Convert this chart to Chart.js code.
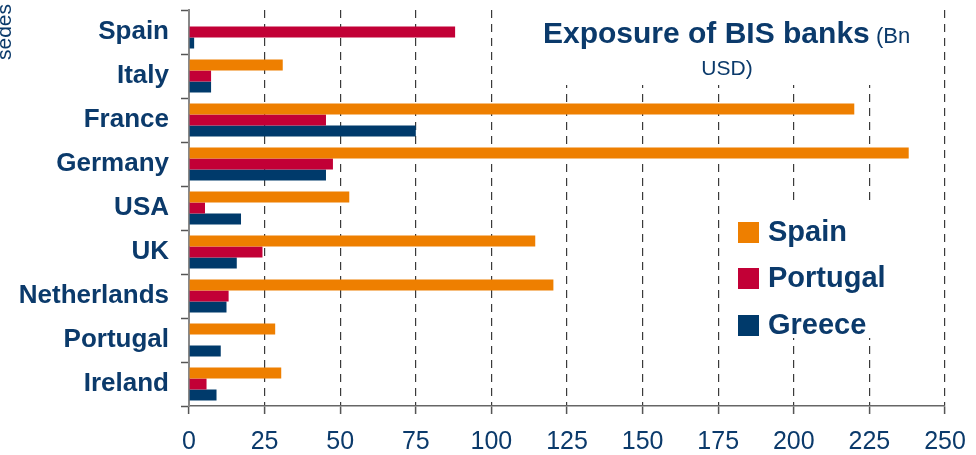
<!DOCTYPE html>
<html>
<head>
<meta charset="utf-8">
<script src="https://cdn.jsdelivr.net/npm/chart.js@4"></script>
<style>
html, body { margin: 0; padding: 0; background: #fff; }
</style>
</head>
<body>
<canvas id="chart" width="976" height="455"></canvas>
<script>
// Bank nationality (categories) and exposures in Bn USD
const countries = ["Spain", "Italy", "France", "Germany", "USA", "UK", "Netherlands", "Portugal", "Ireland"];
const toSpain    = [null, 31, 220, 238, 53, 114.5, 120.5, 28.5, 30.5];
const toPortugal = [88, 7.3, 45.3, 47.6, 5.3, 24.3, 13.1, null, 5.8];
const toGreece   = [1.7, 7.3, 75, 45.3, 17.2, 15.8, 12.4, 10.5, 9.1];
const xTicks = [0, 25, 50, 75, 100, 125, 150, 175, 200, 225, 250];

const navy = "#0B3A6B";
const FONT = "'Liberation Sans', Arial, sans-serif";

// Title, legend and clipped side label drawn inside the plot area
const overlayPlugin = {
    id: "overlay",
    afterDraw(chart) {
        const ctx = chart.ctx;
        ctx.save();

        // white boxes hiding the grid behind title and legend
        ctx.fillStyle = "#ffffff";
        ctx.fillRect(540, 0, 396, 85);
        ctx.fillRect(722, 203, 215, 135);

        // title
        ctx.fillStyle = navy;
        ctx.textBaseline = "alphabetic";
        ctx.textAlign = "left";
        ctx.font = "bold 30px " + FONT;
        ctx.fillText("Exposure of BIS banks", 543, 43);
        ctx.font = "22px " + FONT;
        ctx.fillText("(Bn", 876, 43);
        ctx.textAlign = "center";
        ctx.font = "21px " + FONT;
        ctx.fillText("USD)", 727, 75);

        // legend
        const rows = [232, 278, 325];
        chart.data.datasets.forEach((ds, i) => {
            ctx.fillStyle = ds.backgroundColor;
            ctx.fillRect(738, rows[i] - 10, 21, 21);
            ctx.fillStyle = navy;
            ctx.textAlign = "left";
            ctx.textBaseline = "middle";
            ctx.font = "bold 29px " + FONT;
            ctx.fillText(ds.label, 768, rows[i] + 1);
        });

        // rotated axis title, cut by the left edge
        ctx.translate(11, 60);
        ctx.rotate(-Math.PI / 2);
        ctx.textAlign = "left";
        ctx.textBaseline = "alphabetic";
        ctx.font = "21px " + FONT;
        ctx.fillText("sedes", 0, 0);

        ctx.restore();
    }
};

new Chart(document.getElementById("chart").getContext("2d"), {
    type: "bar",
    data: {
        labels: countries,
        datasets: [
            { label: "Spain", data: toSpain, backgroundColor: "#EE7F00" },
            { label: "Portugal", data: toPortugal, backgroundColor: "#C20036" },
            { label: "Greece", data: toGreece, backgroundColor: "#003A6B" }
        ]
    },
    options: {
        indexAxis: "y",
        responsive: false,
        animation: false,
        devicePixelRatio: 1,
        datasets: {
            bar: { categoryPercentage: 0.75, barPercentage: 1.0 }
        },
        layout: { padding: { top: 10, right: 31, left: 0, bottom: 0 } },
        plugins: {
            legend: { display: false },
            title: { display: false },
            tooltip: { enabled: false }
        },
        scales: {
            x: {
                min: 0,
                max: 250,
                afterBuildTicks: axis => { axis.ticks = xTicks.map(v => ({ value: v })); },
                afterFit: axis => {
                    axis.height = 49;
                    axis.paddingLeft = 0;
                    axis.paddingRight = 0;
                },
                grid: {
                    color: c => c.index === 0 ? "rgba(0,0,0,0)" : "#3a3a3a",
                    lineWidth: 1.2,
                    tickLength: 8,
                    tickColor: "#555",
                    tickWidth: 1.5
                },
                border: { color: "#666", width: 1.5, dash: [8, 6] },
                ticks: {
                    color: navy,
                    padding: 13,
                    font: { family: FONT, size: 25 }
                }
            },
            y: {
                afterFit: axis => {
                    axis.width = 189;
                    axis.paddingTop = 0;
                    axis.paddingBottom = 0;
                },
                grid: {
                    drawOnChartArea: false,
                    tickLength: 8,
                    tickColor: "#555",
                    tickWidth: 1.5
                },
                border: { color: "#888", width: 2 },
                ticks: {
                    color: navy,
                    padding: 12,
                    font: { family: FONT, size: 26, weight: "bold" }
                }
            }
        }
    },
    plugins: [overlayPlugin]
});
</script>
</body>
</html>
